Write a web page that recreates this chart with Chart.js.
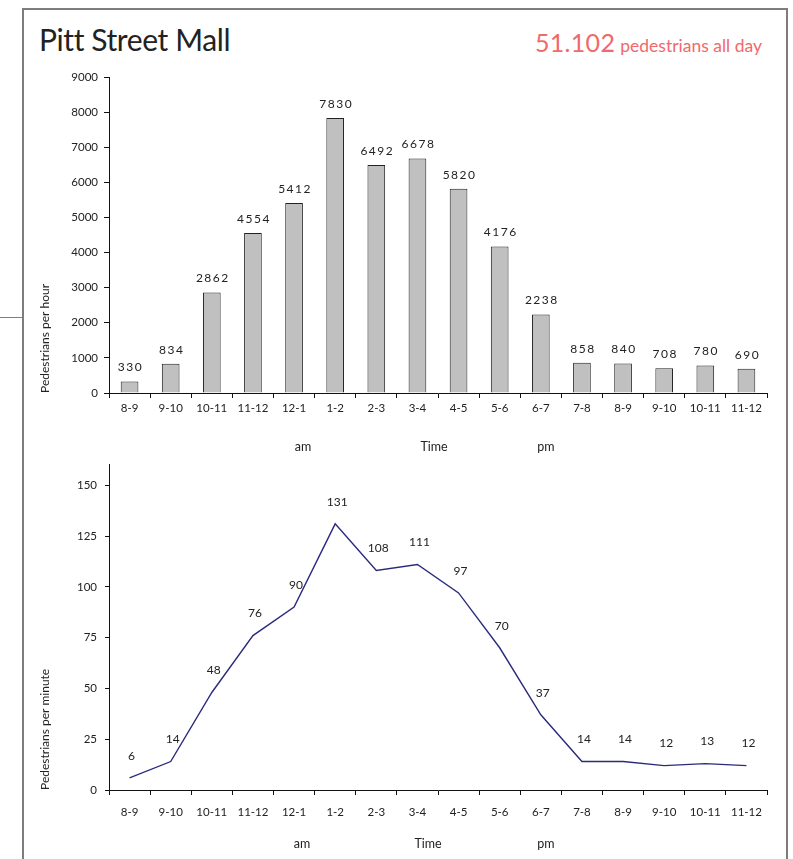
<!DOCTYPE html>
<html>
<head>
<meta charset="utf-8">
<title>Pitt Street Mall</title>
<script src="https://cdn.jsdelivr.net/npm/chart.js@4.4.0/dist/chart.umd.min.js"></script>
<style>
    body { margin: 0; background: #fff; font-family: Lato, "Open Sans", sans-serif; }
    #marco {
        position: absolute; left: 22px; top: 8px; width: 762px; height: 900px;
        border: 2px solid #7d7d7d; border-bottom: none;
    }
    #raya { position: absolute; left: 0; top: 317px; width: 22px; height: 0; border-top: 1.5px solid #7d7d7d; }
    #titulo { position: absolute; left: 39px; top: 21px; font-size: 30px; font-weight: 400; letter-spacing: -0.4px; color: #222; white-space: nowrap; }
    #total { position: absolute; right: 31px; top: 27px; color: #ef6a6a; white-space: nowrap; }
    #total .num { font-size: 25px; letter-spacing: 0.3px; }
    #total .txt { font-size: 17.5px; margin-left: 5px; }
    canvas { position: absolute; }
    .rotulo { position: absolute; font-size: 12.5px; color: #222; transform: translate(-50%, -50%); white-space: nowrap; }
</style>
</head>
<body>
<div id="marco"></div>
<div id="raya"></div>
<div id="titulo">Pitt Street Mall</div>
<div id="total"><span class="num">51.102</span><span class="txt">pedestrians all day</span></div>

<canvas id="grafica-barras" style="left:0; top:60px;"></canvas>
<canvas id="grafica-lineal" style="left:0; top:450px;"></canvas>

<div class="rotulo" style="left:303px; top:446px;">am</div>
<div class="rotulo" style="left:434px; top:446px;">Time</div>
<div class="rotulo" style="left:546px; top:446px;">pm</div>
<div class="rotulo" style="left:302px; top:843px;">am</div>
<div class="rotulo" style="left:428px; top:843px;">Time</div>
<div class="rotulo" style="left:546px; top:843px;">pm</div>

<script>
// Franjas horarias (de 8 am a 12 pm)
const horas = ["8-9", "9-10", "10-11", "11-12", "12-1", "1-2", "2-3", "3-4",
    "4-5", "5-6", "6-7", "7-8", "8-9", "9-10", "10-11", "11-12"];

// Peatones por hora
const peatonesHora = [330, 834, 2862, 4554, 5412, 7830, 6492, 6678,
    5820, 4176, 2238, 858, 840, 708, 780, 690];

// Peatones por minuto
const peatonesMinuto = [6, 14, 48, 76, 90, 131, 108, 111,
    97, 70, 37, 14, 14, 12, 13, 12];

Chart.defaults.font.family = "Lato, 'Open Sans', sans-serif";
Chart.defaults.color = "#222";

// Escribe el valor encima de cada barra / punto
const etiquetasValor = {
    id: 'etiquetasValor',
    afterDatasetsDraw(chart, args, opts) {
        const ctx = chart.ctx;
        const meta = chart.getDatasetMeta(0);
        const datos = chart.data.datasets[0].data;
        ctx.save();
        ctx.font = opts.font;
        ctx.fillStyle = "#222";
        ctx.textAlign = "center";
        ctx.textBaseline = "middle";
        if (opts.espaciado) ctx.letterSpacing = opts.espaciado;
        meta.data.forEach((el, i) => {
            ctx.fillText(String(datos[i]), el.x + opts.dx, el.y - opts.dy);
        });
        ctx.restore();
    }
};

function prepararCanvas(id, ancho, alto) {
    const c = document.getElementById(id);
    c.width = ancho;
    c.height = alto;
    c.style.width = ancho + "px";
    c.style.height = alto + "px";
    return c.getContext("2d");
}

const ejeNegro = {
    display: true,
    drawOnChartArea: false,
    drawTicks: true,
    tickLength: 5,
    color: "#111",
    lineWidth: 1
};

//* Grafica de barras
const ctx1 = prepararCanvas("grafica-barras", 793, 400);
const graficaBarras = new Chart(ctx1, {
    type: "bar",
    data: {
        labels: horas,
        datasets: [{
            data: peatonesHora,
            backgroundColor: "#c0c0c0",
            borderColor: "#222",
            borderWidth: 1,
            categoryPercentage: 1,
            barPercentage: 0.43
        }]
    },
    options: {
        responsive: false,
        animation: false,
        layout: { padding: { top: 17, right: 26, left: 0, bottom: 0 } },
        scales: {
            x: {
                offset: true,
                grid: Object.assign({}, ejeNegro, { offset: true }),
                border: { color: "#111", width: 1 },
                ticks: { font: { size: 11.5 }, padding: 3, maxRotation: 0, autoSkip: false },
                afterFit: (scale) => { scale.height = 67; }
            },
            y: {
                min: 0,
                max: 9000,
                grid: ejeNegro,
                border: { color: "#111", width: 1 },
                ticks: {
                    stepSize: 1000,
                    font: { size: 11.5 },
                    padding: 6,
                    callback: (v) => String(v)
                },
                title: {
                    display: true,
                    text: "Pedestrians per hour",
                    align: "start",
                    font: { size: 12 },
                    padding: { top: 38, bottom: 0 }
                },
                afterFit: (scale) => { scale.width = 109; }
            }
        },
        plugins: {
            legend: { display: false },
            tooltip: { enabled: false },
            etiquetasValor: { font: "12px Lato, sans-serif", espaciado: "1.5px", dx: 1, dy: 14 }
        }
    },
    plugins: [etiquetasValor]
});

//* Grafica lineal
const ctx2 = prepararCanvas("grafica-lineal", 793, 400);
const graficaLineal = new Chart(ctx2, {
    type: "line",
    data: {
        labels: horas,
        datasets: [{
            data: peatonesMinuto,
            borderColor: "#2b2b7e",
            borderWidth: 1.4,
            pointRadius: 0,
            tension: 0,
            fill: false
        }]
    },
    options: {
        responsive: false,
        animation: false,
        layout: { padding: { top: 10, right: 26, left: 0, bottom: 0 } },
        scales: {
            x: {
                offset: true,
                grid: Object.assign({}, ejeNegro, { offset: true }),
                border: { color: "#111", width: 1 },
                ticks: { font: { size: 11.5 }, padding: 10, maxRotation: 0, autoSkip: false },
                afterFit: (scale) => { scale.height = 60; }
            },
            y: {
                min: 0,
                max: 160,
                grid: Object.assign({}, ejeNegro, { tickLength: 4 }),
                border: { color: "#111", width: 1 },
                ticks: {
                    stepSize: 25,
                    font: { size: 11.5 },
                    padding: 8
                },
                afterBuildTicks: (scale) => {
                    scale.ticks = scale.ticks.filter(t => t.value <= 150);
                },
                title: {
                    display: true,
                    text: "Pedestrians per minute",
                    align: "start",
                    font: { size: 12 },
                    padding: { top: 38, bottom: 0 }
                },
                afterFit: (scale) => { scale.width = 109; }
            }
        },
        plugins: {
            legend: { display: false },
            tooltip: { enabled: false },
            etiquetasValor: { font: "12px Lato, sans-serif", dx: 2, dy: 22 }
        }
    },
    plugins: [etiquetasValor]
});
</script>
</body>
</html>
